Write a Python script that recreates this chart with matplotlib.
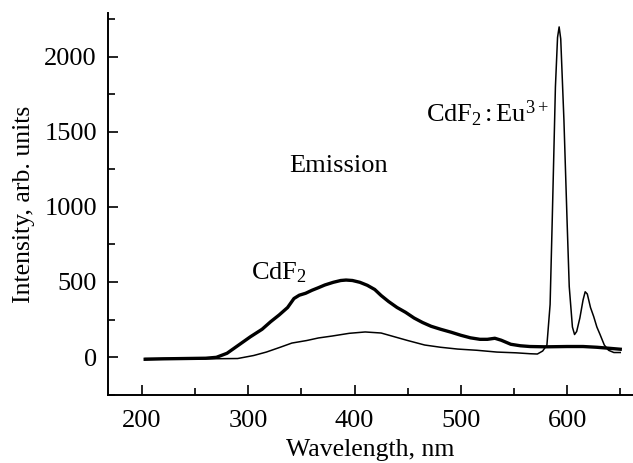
import matplotlib
matplotlib.use("Agg")
import matplotlib.pyplot as plt
from matplotlib.ticker import MultipleLocator

plt.rcParams['font.family'] = ['Liberation Serif', 'DejaVu Serif']
plt.rcParams['mathtext.fontset'] = 'custom'
plt.rcParams['mathtext.rm'] = 'Liberation Serif'
plt.rcParams['mathtext.it'] = 'Liberation Serif'

# CdF2 (thick line)
wl_cdf2 = [203, 220, 240, 260, 270, 280, 291, 302, 313, 321, 329, 337, 343, 348, 354, 360, 366,
           372, 380, 387, 392, 398, 405, 412, 419, 425, 432, 440, 448, 456, 464, 472, 481, 491,
           500, 509, 518, 525, 532, 538, 547, 556, 565, 580, 600, 615, 628, 640, 650]
int_cdf2 = [-15, -12, -10, -8, -2, 25, 80, 135, 185, 235, 280, 330, 390, 412, 425, 445, 462,
            480, 498, 510, 513, 510, 498, 478, 450, 410, 370, 330, 298, 260, 230, 205, 185, 165,
            145, 128, 118, 118, 125, 112, 85, 75, 70, 68, 70, 70, 65, 58, 52]

# CdF2:Eu3+ (thin line)
wl_eu = [203, 230, 260, 290, 305, 317, 330, 341, 355, 366, 379, 395, 410, 425, 435, 450, 466,
         481, 497, 515, 534, 552, 565, 572, 577, 581, 584, 586, 589, 591, 592.5, 594, 597,
         600, 602, 605, 607, 609, 612, 615, 617, 619, 622, 625, 628, 631, 635, 639, 644, 650]
int_eu = [-10, -10, -12, -10, 10, 33, 65, 93, 110, 127, 140, 158, 167, 160, 140, 110, 80,
          65, 53, 45, 33, 28, 22, 20, 40, 80, 350, 910, 1800, 2130, 2200, 2120, 1580,
          900, 470, 200, 150, 170, 260, 380, 435, 420, 330, 270, 200, 150, 80, 45, 30, 30]

fig = plt.figure(figsize=(6.33, 4.63), dpi=100)
ax = fig.add_axes([0.1706, 0.1469, 0.8294, 0.8251])

ax.plot(wl_cdf2, int_cdf2, color='black', lw=2.4, solid_joinstyle='round')
ax.plot(wl_eu, int_eu, color='black', lw=1.1)

ax.set_xlim(168, 662)
ax.set_ylim(-253, 2293)

for s in ['top', 'right']:
    ax.spines[s].set_visible(False)
for s in ['left', 'bottom']:
    ax.spines[s].set_linewidth(1.4)

ax.xaxis.set_major_locator(MultipleLocator(100))
ax.xaxis.set_minor_locator(MultipleLocator(50))
ax.yaxis.set_major_locator(MultipleLocator(500))
ax.yaxis.set_minor_locator(MultipleLocator(250))
ax.tick_params(which='both', direction='in', width=1.2, labelsize=19)
ax.tick_params(which='major', length=7)
ax.tick_params(which='minor', length=5)
ax.tick_params(axis='x', which='major', pad=11)
ax.tick_params(axis='y', which='major', pad=8)

ax.set_xlabel('Wavelength, nm', fontsize=18.5, labelpad=5)
ax.set_ylabel('Intensity, arb. units', fontsize=18.5, labelpad=7)

ax.text(385, 1270, 'Emission', fontsize=19, ha='center', va='center')
ax.text(303, 560, r'CdF$_2$', fontsize=19, ha='left', va='center')
ax.text(467, 1620, r'CdF$_2\,$:$\,$Eu$^{3+}$', fontsize=19, ha='left', va='center')

fig.savefig('out.png', dpi=100)
